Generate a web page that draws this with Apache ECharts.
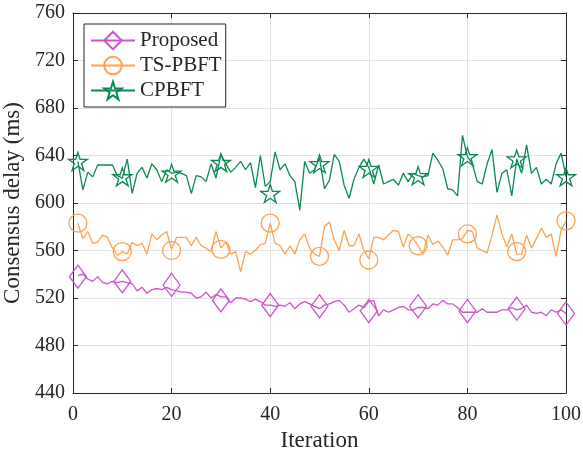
<!DOCTYPE html>
<html>
<head>
<meta charset="utf-8">
<script src="https://cdn.jsdelivr.net/npm/echarts@6/dist/echarts.min.js"></script>
<style>html,body{margin:0;padding:0;background:#fff;}#c{width:583px;height:454px;}</style>
</head>
<body>
<div id="c"></div>
<script>
var iterations = [1,2,3,4,5,6,7,8,9,10,11,12,13,14,15,16,17,18,19,20,21,22,23,24,25,26,27,28,29,30,31,32,33,34,35,36,37,38,39,40,41,42,43,44,45,46,47,48,49,50,51,52,53,54,55,56,57,58,59,60,61,62,63,64,65,66,67,68,69,70,71,72,73,74,75,76,77,78,79,80,81,82,83,84,85,86,87,88,89,90,91,92,93,94,95,96,97,98,99,100];

var proposed = [539,540,536,534,538,533,532,534,533,534,533,532,526,529,524,527,528,527,529,527,
  526,525,525,524,520,521,525,520,523,521,521,516,520,520,519,517,519,517,514,514,
  513,514,513,516,511,515,517,515,513,511,514,515,517,518,514,508,511,514,512,517,
  518,505,510,508,510,512,513,510,510,512,512,511,515,514,518,515,515,512,508,508,
  508,508,511,508,508,508,510,510,512,510,511,514,508,507,508,505,510,508,510,507];

var tsPbft = [583,570,576,566,567,573,571,562,556,559,557,567,564,566,557,574,569,573,576,561,
  571,571,571,564,571,564,562,559,576,562,567,557,559,542,559,557,560,565,566,583,
  566,564,557,564,557,569,574,562,557,555,580,584,569,560,577,564,564,574,560,553,
  571,571,569,573,577,576,563,574,570,564,557,573,565,568,563,556,569,569,570,577,
  576,562,560,558,573,590,574,563,574,557,557,573,562,570,579,571,574,555,577,585];

var cpbft = [635,611,626,622,632,632,632,632,623,621,637,608,625,630,621,633,628,618,628,625,
  626,625,623,608,623,622,618,633,621,641,633,626,630,635,628,634,613,640,614,618,
  643,628,633,623,618,594,635,625,628,638,612,619,641,635,615,604,620,630,637,630,
  616,632,616,618,620,615,625,618,625,623,622,623,642,636,629,612,611,606,657,639,
  633,618,616,633,645,609,625,628,606,637,625,649,625,630,616,620,616,633,642,622];

var markerIterations = [1,10,20,30,40,50,60,70,80,90,100];
var proposedMarks = [538,534,531,518,514,513,509,513,509,511,507];
var tsPbftMarks = [583,559,560,561,583,555,552,564,574,559,585];
var cpbftMarks = [635,622,625,634,608,633,629,623,639,637,622];

var seriesNames = ['Proposed','TS-PBFT','CPBFT'];
var xTicks = {min:0, max:100, interval:20};
var yTicks = {min:440, max:760, interval:40};

var colors = ['#cc55cc','#ffa14e','#0b8a50'];
var starPath = 'path://M0,-1000 L224,-309 L951,-309 L363,118 L588,809 L0,382 L-588,809 L-363,118 L-951,-309 L-224,-309 Z';
var symbols = ['diamond','circle',starPath];
var symbolSizes = [[17,23],[18,18],[19,18]];

function pairs(xs, ys){ var out=[]; for(var i=0;i<ys.length;i++){ out.push([xs[i], ys[i]]); } return out; }

var lineData = [proposed, tsPbft, cpbft];
var markData = [proposedMarks, tsPbftMarks, cpbftMarks];
var font = 'Liberation Serif, Times New Roman, serif';
var ink = '#262626';

var series = [];
for (var k=0;k<3;k++){
  series.push({
    name: seriesNames[k], type:'line', data: pairs(iterations, lineData[k]),
    showSymbol:false, symbol: symbols[k], symbolSize: symbolSizes[k],
    lineStyle:{color:colors[k], width:1.3},
    itemStyle:{color:'rgba(0,0,0,0)', borderColor:colors[k], borderWidth:1.4, opacity:1},
    silent:true, z:2
  });
  series.push({
    name: seriesNames[k]+' markers', type:'scatter', data: pairs(markerIterations, markData[k]),
    symbol: symbols[k], symbolSize: symbolSizes[k],
    itemStyle:{color:'rgba(0,0,0,0)', borderColor:colors[k], borderWidth:1.3, opacity:1},
    silent:true, z:3
  });
}

var chart = echarts.init(document.getElementById('c'), null, {renderer:'canvas'});
chart.setOption({
  animation:false,
  backgroundColor:'#fff',
  grid:{left:73, right:17, top:13, bottom:61, containLabel:false, outerBoundsMode:'none'},
  legend:{
    data: seriesNames, orient:'vertical', left:84, top:24,
    backgroundColor:'#fff', borderColor:ink, borderWidth:1, borderRadius:0,
    padding:[6,4,6,6], itemGap:4, itemWidth:44, itemHeight:22,
    textStyle:{fontFamily:font, fontSize:21, color:ink}
  },
  xAxis:[{
    type:'value', min:xTicks.min, max:xTicks.max, interval:xTicks.interval,
    name:'Iteration', nameLocation:'middle', nameGap:35,
    nameTextStyle:{fontFamily:font, fontSize:23, color:ink},
    axisLine:{show:true, onZero:false, lineStyle:{color:ink, width:1}},
    axisTick:{show:true, inside:true, length:5, lineStyle:{color:ink}},
    axisLabel:{fontFamily:font, fontSize:20, color:ink, margin:12},
    splitLine:{show:true, lineStyle:{color:'#e2e2e2', width:1}}
  },{
    type:'value', position:'top', min:xTicks.min, max:xTicks.max, interval:xTicks.interval,
    axisLine:{show:true, onZero:false, lineStyle:{color:ink, width:1}},
    axisTick:{show:true, inside:true, length:5, lineStyle:{color:ink}},
    axisLabel:{show:false}, splitLine:{show:false}
  }],
  yAxis:[{
    type:'value', min:yTicks.min, max:yTicks.max, interval:yTicks.interval,
    name:'Consensus delay (ms)', nameLocation:'middle', nameGap:43, nameRotate:90,
    nameTextStyle:{fontFamily:font, fontSize:23, color:ink},
    axisLine:{show:true, onZero:false, lineStyle:{color:ink, width:1}},
    axisTick:{show:true, inside:true, length:5, lineStyle:{color:ink}},
    axisLabel:{fontFamily:font, fontSize:20, color:ink, margin:8},
    splitLine:{show:true, lineStyle:{color:'#e2e2e2', width:1}}
  },{
    type:'value', position:'right', min:yTicks.min, max:yTicks.max, interval:yTicks.interval,
    axisLine:{show:true, onZero:false, lineStyle:{color:ink, width:1}},
    axisTick:{show:true, inside:true, length:5, lineStyle:{color:ink}},
    axisLabel:{show:false}, splitLine:{show:false}
  }],
  series: series
});
</script>
</body>
</html>
